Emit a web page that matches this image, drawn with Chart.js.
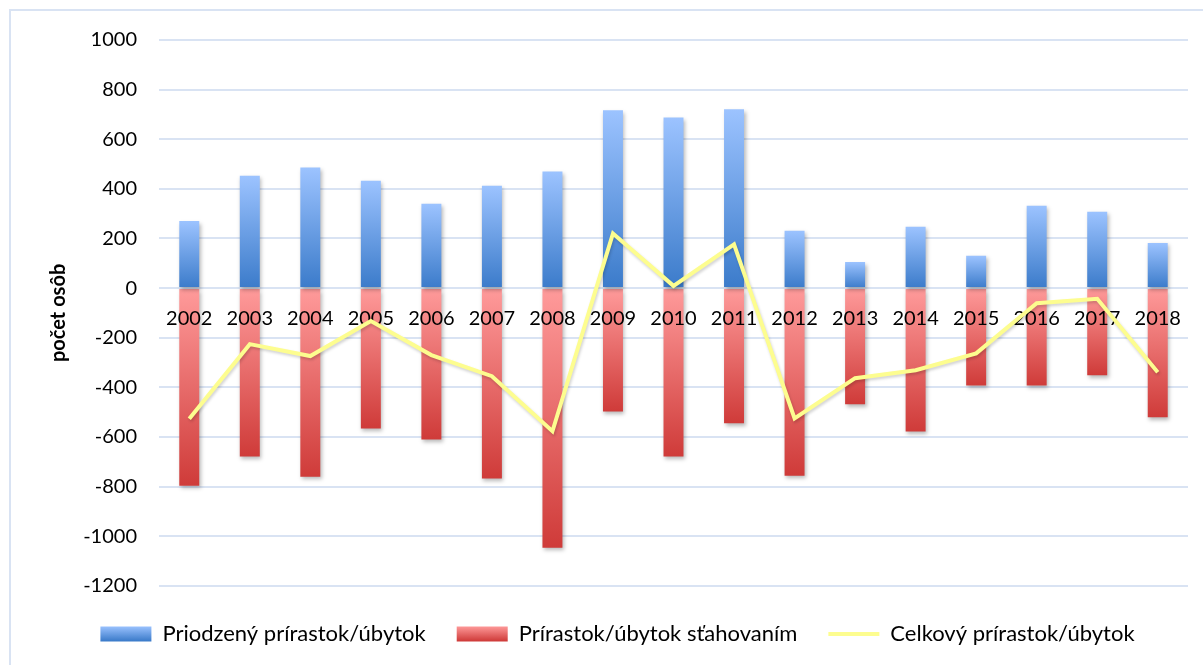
<!DOCTYPE html>
<html>
<head>
<meta charset="utf-8">
<script src="https://cdn.jsdelivr.net/npm/chart.js@4/dist/chart.umd.min.js"></script>
<style>
  html, body { margin: 0; padding: 0; background: #ffffff; }
  #wrap { width: 1203px; height: 665px; position: relative; }
</style>
</head>
<body>
<div id="wrap"><canvas id="c"></canvas></div>
<script>
const years = ['2002','2003','2004','2005','2006','2007','2008','2009','2010','2011','2012','2013','2014','2015','2016','2017','2018'];
const naturalChange = [270, 453, 486, 433, 340, 413, 470, 717, 688, 721, 231, 105, 247, 130, 332, 308, 182];
const migrationChange = [-797, -679, -760, -566, -610, -768, -1047, -497, -679, -545, -756, -468, -578, -393, -393, -351, -521];
const totalChange = [-527, -226, -274, -133, -270, -355, -577, 220, 9, 176, -525, -363, -331, -263, -61, -43, -339];
const seriesNames = ['Priodzený prírastok/úbytok', 'Prírastok/úbytok sťahovaním', 'Celkový prírastok/úbytok'];
const yTickValues = [-1200, -1000, -800, -600, -400, -200, 0, 200, 400, 600, 800, 1000];
const yAxisTitle = 'počet osôb';

const FONT = 'Lato, "Open Sans", "Liberation Sans", sans-serif';

function barGradient(context, light, dark) {
  const chart = context.chart;
  if (!chart.chartArea || context.type !== 'data') return dark[0];
  const y = chart.scales.y;
  const end = y.getPixelForValue(context.raw);
  const zero = y.getPixelForValue(0);
  if (!isFinite(end) || Math.abs(end - zero) < 1) return dark[0];
  const g = chart.ctx.createLinearGradient(0, end, 0, zero);
  if (context.raw >= 0) {
    g.addColorStop(0, light[0]);
    g.addColorStop(1, dark[0]);
  } else {
    g.addColorStop(0, dark[1]);
    g.addColorStop(1, light[1]);
  }
  return g;
}

const frame = {
  id: 'frame',
  beforeDraw(chart) {
    const c = chart.ctx;
    c.save();
    c.strokeStyle = '#d9e3f3';
    c.lineWidth = 2;
    c.strokeRect(10, 10, 1400, 1000);
    c.restore();
  }
};

function applyShadow(c, isBar) {
  if (isBar) {
    c.shadowColor = 'rgba(0,0,0,0.28)';
    c.shadowBlur = 4;
    c.shadowOffsetX = 1.5;
    c.shadowOffsetY = 2.5;
  } else {
    c.shadowColor = 'rgba(0,0,0,0.18)';
    c.shadowBlur = 3;
    c.shadowOffsetX = 1;
    c.shadowOffsetY = 2;
  }
}

const layering = {
  id: 'layering',
  beforeDatasetDraw(chart, args) {
    if (args.meta.type === 'line') return false; // drawn later, above the category labels
    chart.ctx.save();
    applyShadow(chart.ctx, true);
  },
  afterDatasetDraw(chart, args) {
    if (args.meta.type !== 'line') chart.ctx.restore();
  },
  afterDraw(chart) {
    chart.data.datasets.forEach((ds, i) => {
      if (ds.type !== 'line') return;
      const meta = chart.getDatasetMeta(i);
      const c = chart.ctx;
      c.save();
      applyShadow(c, false);
      meta.controller.draw();
      c.restore();
    });
  }
};

const blueLight = '#9cc3ff', blueDark = '#3b7bca';
const redLight = '#ff9b9b', redDark = '#cf3b39';
const lineColor = '#fdfd8f';

new Chart(document.getElementById('c'), {
  type: 'bar',
  data: {
    labels: years,
    datasets: [
      {
        label: seriesNames[0],
        data: naturalChange,
        stack: 'bars',
        order: 1,
        backgroundColor: (ctx) => barGradient(ctx, [blueLight, redLight], [blueDark, redDark]),
        barPercentage: 0.33,
        categoryPercentage: 1.0,
        borderWidth: 0
      },
      {
        label: seriesNames[1],
        data: migrationChange,
        stack: 'bars',
        order: 1,
        backgroundColor: (ctx) => barGradient(ctx, [blueLight, redLight], [blueDark, redDark]),
        barPercentage: 0.33,
        categoryPercentage: 1.0,
        borderWidth: 0
      },
      {
        type: 'line',
        label: seriesNames[2],
        data: totalChange,
        stack: 'total',
        order: 0,
        borderColor: lineColor,
        backgroundColor: lineColor,
        borderWidth: 4,
        pointRadius: 0,
        tension: 0,
        fill: false
      }
    ]
  },
  options: {
    responsive: true,
    maintainAspectRatio: false,
    animation: false,
    layout: { padding: { top: 40, right: 15, bottom: 10, left: 47 } },
    plugins: {
      tooltip: { enabled: false },
      legend: {
        position: 'bottom',
        align: 'center',
        title: {
          display: true,
          text: ' ',
          font: { size: 1 },
          padding: { top: 0, bottom: 5 }
        },
        labels: {
          usePointStyle: true,
          pointStyleWidth: 51,
          boxHeight: 15,
          padding: 31,
          color: '#000',
          font: { family: FONT, size: 22 },
          generateLabels(chart) {
            const c = chart.ctx;
            const mk = (light, dark) => {
              const g = c.createLinearGradient(0, 626, 0, 641);
              g.addColorStop(0, light);
              g.addColorStop(1, dark);
              return g;
            };
            return chart.data.datasets.map((ds, i) => {
              const isLine = ds.type === 'line';
              return {
                text: ds.label,
                datasetIndex: i,
                fillStyle: isLine ? lineColor : (i === 0 ? mk(blueLight, blueDark) : mk(redLight, redDark)),
                strokeStyle: isLine ? lineColor : 'rgba(0,0,0,0)',
                lineWidth: isLine ? 4 : 0,
                pointStyle: isLine ? 'line' : 'rect',
                fontColor: '#000',
                hidden: false
              };
            });
          }
        }
      }
    },
    scales: {
      x: {
        stacked: true,
        position: { y: 0 },
        grid: { display: false, drawTicks: false },
        border: { display: false },
        ticks: {
          z: 1,
          color: '#000',
          font: { family: FONT, size: 20 },
          padding: 18,
          maxRotation: 0,
          autoSkip: false
        }
      },
      y: {
        stacked: true,
        min: -1200,
        max: 1000,
        afterFit(scale) { scale.width = 112; },
        afterBuildTicks(scale) { scale.ticks = yTickValues.map(v => ({ value: v })); },
        grid: { color: '#d9e3f3', lineWidth: 2, drawTicks: false },
        border: { display: false },
        ticks: {
          color: '#000',
          font: { family: FONT, size: 20 },
          padding: 22,
          callback: (v) => String(v)
        },
        title: {
          display: true,
          text: yAxisTitle,
          color: '#000',
          font: { family: FONT, size: 20, weight: 'bold' },
          padding: { top: 0, bottom: 0 }
        }
      }
    }
  },
  plugins: [frame, layering]
});
</script>
</body>
</html>
